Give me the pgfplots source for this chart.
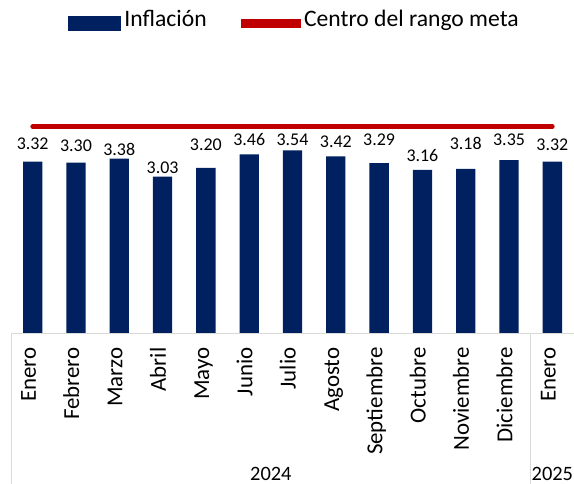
\documentclass[border=0pt]{standalone}
\usepackage{fontspec}
\setmainfont{Carlito}
\usepackage{pgfplots}
\usepackage{pgfplotstable}
\pgfplotsset{compat=1.18}
\definecolor{barblue}{HTML}{002060}
\definecolor{goalred}{HTML}{C00000}
\definecolor{axisgray}{HTML}{D9D9D9}

% x = month index, y = inflation, off = label lift above bar (bp)
\pgfplotstableread{
x y off
0 3.32 11.7
1 3.30 11.6
2 3.38 2.7
3 3.03 3.4
4 3.20 17.7
5 3.46 9.0
6 3.54 4.7
7 3.42 9.3
8 3.29 17.3
9 3.16 8.7
10 3.18 19.7
11 3.35 14.3
12 3.32 10.7
}\inflation

\begin{document}
\begin{tikzpicture}
\useasboundingbox (0,0) rectangle (574bp,484bp);
\begin{axis}[
    at={(11bp,150.7bp)}, anchor=south west,
    scale only axis, width=563bp, height=310.2bp,
    xmin=-0.5, xmax=12.5, ymin=0, ymax=6,
    axis line style={draw=none}, tick style={draw=none},
    ytick=\empty, xtick={0,...,12},
    xticklabels={Enero,Febrero,Marzo,Abril,Mayo,Junio,Julio,Agosto,Septiembre,Octubre,Noviembre,Diciembre,Enero},
    xticklabel style={rotate=90, anchor=east, inner sep=0pt, text height=0.644em, text depth=0pt,
        font=\fontsize{23}{27}\selectfont},
    xticklabel shift=14bp,
    clip=false,
    /pgf/number format/assume math mode=true,
    legend columns=2,
    legend style={at={(0.1,0.9987)}, anchor=west, draw=none, fill=none, inner sep=0pt,
        font=\fontsize{23.7}{28}\selectfont,
        nodes={inner sep=0pt, text height=0.644em, text depth=0pt},
        /tikz/every odd column/.append style={column sep=3.5bp},
        /tikz/every even column/.append style={column sep=34bp}},
]
\addplot[ybar, bar width=19.3bp, fill=barblue, draw=none,
    point meta=y,
    visualization depends on={\thisrow{off}\as\labeloff},
    nodes near coords={\pgfmathprintnumber[fixed,fixed zerofill,precision=2]{\pgfplotspointmeta}},
    nodes near coords style={anchor=base, inner sep=0pt, yshift=\labeloff bp,
        font=\fontsize{18}{21}\selectfont, text=black},
    legend image code/.code={\fill[barblue] (0bp,-7.5bp) rectangle (53.4bp,7.5bp);}
] table[x=x,y=y] {\inflation};
\addplot[goalred, line width=4.6bp, line cap=round,
    legend image code/.code={\path (0bp,-2.3bp) rectangle (55.3bp,2.3bp);
        \draw[goalred, line width=4.6bp, line cap=round] (2.3bp,0) -- (53bp,0);}
] coordinates {(0,4) (12,4)};
\legend{Inflación, Centro del rango meta}

\draw[axisgray, line width=1bp] (axis cs:-0.5,0) -- (axis cs:12.5,0);
\draw[axisgray, line width=1bp] (axis cs:-0.5,0) -- (axis cs:-0.5,-3);
\draw[axisgray, line width=1bp] (axis cs:11.5,0) -- (axis cs:11.5,-3);
\node[anchor=base, inner sep=0pt, font=\fontsize{20.5}{24}\selectfont] at (axis cs:5.5,-2.84) {2024};
\node[anchor=base, inner sep=0pt, font=\fontsize{20.5}{24}\selectfont] at (axis cs:12,-2.84) {2025};
\end{axis}
\end{tikzpicture}
\end{document}
